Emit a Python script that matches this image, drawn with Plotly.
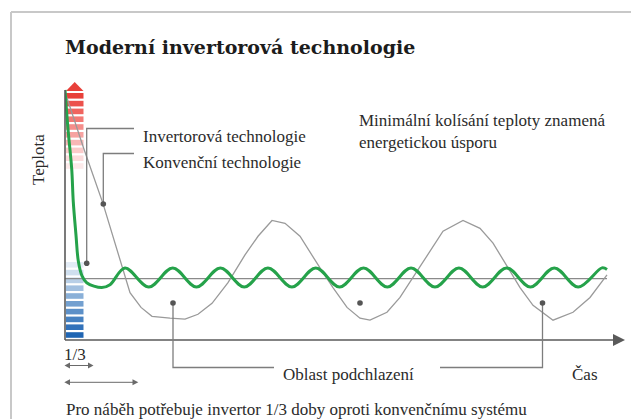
import plotly.graph_objects as go

# page is shown with the browser's default 8px body margin, so the figure is sized to fit
OFF = 8
W, H = 639 - OFF, 419 - OFF

# ---- data (time in arbitrary units 0..100, temperature in arbitrary units 0..100)
inv_time = [0, 0.54, 1.2, 1.48, 1.97, 2.38, 3.04, 3.88, 6.57, 8.05, 10.73, 15.0, 19.27, 23.52,
            27.8, 32.06, 36.3, 40.59, 44.86, 49.12, 53.4, 57.66, 61.9, 66.19, 70.47, 74.73,
            79.0, 83.26, 87.53, 91.8, 96.06, 96.96]
inv_temp = [96.9, 81.4, 65.9, 53.1, 39.9, 29.8, 24.0, 21.3, 19.4, 20.5, 27.1, 19.6, 27.1, 19.6,
            27.1, 19.6, 27.1, 19.6, 27.1, 19.6, 27.1, 19.6, 27.1, 19.6, 27.1, 19.6,
            27.1, 19.6, 27.1, 19.6, 27.1, 26.5]

conv_time = [0, 3.40, 6.80, 9.84, 11.63, 13.60, 15.56, 18.78, 21.47, 23.79, 26.30, 29.16, 32.20,
             34.53, 37.03, 39.36, 42.04, 45.62, 47.94, 50.45, 52.77, 54.56, 57.60, 59.93, 62.25,
             64.76, 67.62, 71.20, 74.24, 76.57, 79.07, 81.40, 83.72, 87.30, 90.88, 93.92, 96.96]
conv_temp = [96.1, 73.6, 52.3, 29.8, 17.4, 11.6, 8.1, 7.4, 7.0, 8.9, 13.2, 21.3, 32.2,
             39.5, 45.7, 44.6, 39.5, 27.1, 19.4, 11.6, 7.4, 6.6, 9.7, 15.5, 23.3,
             31.8, 41.5, 45.7, 42.6, 36.8, 27.9, 19.4, 12.4, 6.6, 9.7, 15.5, 24.4]

setpoint = 22.9

title = "Moderní invertorová technologie"
label_inv = "Invertorová technologie"
label_conv = "Konvenční technologie"
note = "Minimální kolísání teploty znamená<br>energetickou úsporu"
y_title = "Teplota"
x_title = "Čas"
under_label = "Oblast podchlazení"
third_label = "1/3"
footer = "Pro náběh potřebuje invertor 1/3 doby oproti konvenčnímu systému"

red_shades = ["#E8403A", "#EC514C", "#F0645F", "#F37975", "#F58E8B", "#F7A3A1",
              "#F9B7B6", "#FBCBCA", "#FCDCDC", "#FDEAEA"]
blue_shades = ["#E3ECF6", "#CFDFEF", "#B8CFE7", "#A2C0E0", "#8AB0D8", "#73A0D0",
               "#5C90C8", "#4681C1", "#3272BA", "#1F65B3"]

# ---- helpers for decorations (window pixel -> paper)
def X(px):
    return (px - OFF) / W

def Y(py):
    return 1 - (py - OFF) / H

def path(points, close=False):
    s = "M" + " L".join(f"{X(a):.5f},{Y(b):.5f}" for a, b in points)
    return s + (" Z" if close else "")

TXT = "#2b2b2b"
SERIF = "Liberation Serif, Times New Roman, serif"
LEAD = "#7d7d7d"
DOT = "#555555"
AX = "#5a5a5a"

fig = go.Figure()
fig.add_trace(go.Scatter(x=conv_time, y=conv_temp, mode="lines",
                         line=dict(color="#9a9a9a", width=1.3), hoverinfo="skip"))
fig.add_trace(go.Scatter(x=inv_time, y=inv_temp, mode="lines", line_shape="spline",
                         line=dict(color="#25A24A", width=3), hoverinfo="skip"))

shapes = []
# frame
shapes.append(dict(type="line", xref="paper", yref="paper", x0=X(11), x1=X(11), y0=Y(12), y1=Y(425),
                   line=dict(color="#c8c8c8", width=2)))
shapes.append(dict(type="line", xref="paper", yref="paper", x0=X(11), x1=X(645), y0=Y(12), y1=Y(12),
                   line=dict(color="#c8c8c8", width=2)))
# stripes
for i, c in enumerate(red_shades):
    top = 93 + i * 7.8
    shapes.append(dict(type="rect", xref="paper", yref="paper", x0=X(66), x1=X(83.5),
                       y0=Y(top), y1=Y(top + 5.6), fillcolor=c, line_width=0, layer="below"))
for i, c in enumerate(blue_shades):
    top = 262 + i * 7.8
    shapes.append(dict(type="rect", xref="paper", yref="paper", x0=X(66), x1=X(83.5),
                       y0=Y(top), y1=Y(top + 5.6), fillcolor=c, line_width=0, layer="below"))
# red arrowhead on top of the scale
shapes.append(dict(type="path", xref="paper", yref="paper",
                   path=path([(66, 91), (74.7, 82), (83.5, 91)], True),
                   fillcolor="#E8403A", line_width=0, layer="below"))
# axes
shapes.append(dict(type="line", xref="paper", yref="paper", x0=X(65), x1=X(65), y0=Y(90), y1=Y(340),
                   line=dict(color=AX, width=1.6)))
shapes.append(dict(type="line", xref="paper", yref="paper", x0=X(65), x1=X(614), y0=Y(340), y1=Y(340),
                   line=dict(color=AX, width=1.6)))
shapes.append(dict(type="path", xref="paper", yref="paper",
                   path=path([(613, 334), (625, 340), (613, 346)], True),
                   fillcolor=AX, line_width=0))
# set-point line
shapes.append(dict(type="line", xref="x", yref="y", x0=0, x1=max(inv_time), y0=setpoint, y1=setpoint,
                   line=dict(color="#8a8a8a", width=1.2), layer="below"))
# leader lines
shapes.append(dict(type="path", xref="paper", yref="paper",
                   path=path([(134, 128.5), (86.7, 128.5), (86.7, 263.3)]),
                   line=dict(color=LEAD, width=1.3)))
shapes.append(dict(type="path", xref="paper", yref="paper",
                   path=path([(134, 153.5), (103.3, 153.5), (103.3, 204)]),
                   line=dict(color=LEAD, width=1.3)))
shapes.append(dict(type="path", xref="paper", yref="paper",
                   path=path([(274, 367.5), (173, 367.5), (173, 303)]),
                   line=dict(color=LEAD, width=1.3)))
shapes.append(dict(type="path", xref="paper", yref="paper",
                   path=path([(440, 367.5), (542.5, 367.5), (542.5, 303)]),
                   line=dict(color=LEAD, width=1.3)))
for (cx, cy) in [(86.7, 263.3), (103.3, 204), (173, 303), (360, 303), (542.5, 303)]:
    r = 2.8
    shapes.append(dict(type="circle", xref="paper", yref="paper", x0=X(cx - r), x1=X(cx + r),
                       y0=Y(cy - r), y1=Y(cy + r), fillcolor=DOT, line_width=0))
# small double arrow (1/3)
shapes.append(dict(type="line", xref="paper", yref="paper", x0=X(69), x1=X(89), y0=Y(365.5), y1=Y(365.5),
                   line=dict(color="#6a6a6a", width=1)))
shapes.append(dict(type="path", xref="paper", yref="paper",
                   path=path([(70, 362.5), (64.5, 365.5), (70, 368.5)], True), fillcolor="#6a6a6a", line_width=0))
shapes.append(dict(type="path", xref="paper", yref="paper",
                   path=path([(88, 362.5), (93.5, 365.5), (88, 368.5)], True), fillcolor="#6a6a6a", line_width=0))
# big double arrow
shapes.append(dict(type="line", xref="paper", yref="paper", x0=X(68), x1=X(134), y0=Y(382.3), y1=Y(382.3),
                   line=dict(color="#6a6a6a", width=1)))
shapes.append(dict(type="path", xref="paper", yref="paper",
                   path=path([(70, 379.3), (64.3, 382.3), (70, 385.3)], True), fillcolor="#6a6a6a", line_width=0))
shapes.append(dict(type="path", xref="paper", yref="paper",
                   path=path([(132.5, 379.3), (138.3, 382.3), (132.5, 385.3)], True), fillcolor="#6a6a6a", line_width=0))

def ann(text, px, py, size=17, xanchor="left", yanchor="middle", color=TXT, family=SERIF, **kw):
    return dict(text=text, x=X(px), y=Y(py), xref="paper", yref="paper", showarrow=False,
                xanchor=xanchor, yanchor=yanchor, align="left",
                font=dict(size=size, color=color, family=family), **kw)

annotations = [
    ann(f"<b>{title}</b>", 63, 47, size=19, color="#1c1c1c",
        family="DejaVu Serif, serif"),
    ann(label_inv, 140.5, 136),
    ann(label_conv, 140.5, 162),
    ann(note, 356.5, 131.5),
    ann(y_title, 38, 160, xanchor="center", textangle=-90),
    ann(third_label, 75, 354.5, xanchor="center"),
    ann(under_label, 348.7, 374.5, xanchor="center"),
    ann(x_title, 584.5, 374.5, xanchor="center"),
    ann(footer, 63.5, 409.5),
]

fig.update_layout(
    width=W, height=H, margin=dict(l=0, r=0, t=0, b=0),
    paper_bgcolor="white", plot_bgcolor="white", showlegend=False,
    xaxis=dict(domain=[X(65), X(624)], range=[0, 100], visible=False, fixedrange=True),
    yaxis=dict(domain=[Y(337), Y(82)], range=[0, 100], visible=False, fixedrange=True),
    shapes=shapes, annotations=annotations,
)

fig.write_html("out.html", config={"displayModeBar": False})
